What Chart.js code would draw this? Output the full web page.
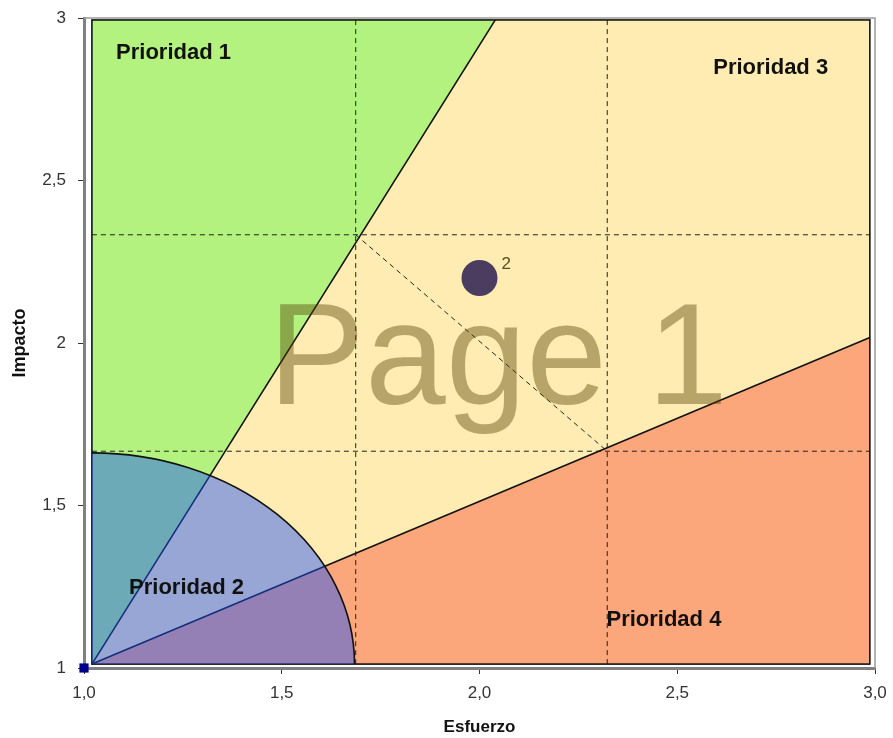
<!DOCTYPE html>
<html>
<head>
<meta charset="utf-8">
<script src="https://cdn.jsdelivr.net/npm/chart.js@4/dist/chart.umd.min.js"></script>
<style>
  html, body { margin: 0; padding: 0; background: #fff; }
  #wrap { width: 893px; height: 738px; }
</style>
</head>
<body>
<div id="wrap"><canvas id="matriz"></canvas></div>
<script>
// proyectos evaluados (esfuerzo, impacto, radio de burbuja)
const projects = [{ x: 2.0, y: 2.2, r: 18 }]
const projectIds = ['2']
const origin = [{ x: 1, y: 1 }]

const xTicks = [1.0, 1.5, 2.0, 2.5, 3.0]
const yTicks = [1, 1.5, 2, 2.5, 3]

// zonas de prioridad, vertices en unidades esfuerzo / impacto
const zoneBox = [[1.02, 1.012], [2.987, 2.994]]
const zoneP1 = [[1.02, 1.012], [1.02, 2.994], [2.04, 2.994]]
const zoneP4 = [[1.02, 1.012], [2.987, 2.017], [2.987, 1.012]]
const zoneP2Center = [1.02, 1.012]
const zoneP2Radius = [0.664, 0.65]

// rejilla en tercios
const thirdsX = [1.687, 2.323]
const thirdsY = [1.667, 2.333]

const zoneNames = ['Prioridad 1', 'Prioridad 2', 'Prioridad 3', 'Prioridad 4']
const zoneNameAt = [[1.081, 2.893], [1.114, 1.245], [2.591, 2.847], [2.321, 1.147]]

const FONT = '"Liberation Sans", Arial, sans-serif'

const zonesPlugin = {
  id: 'zones',
  beforeDatasetsDraw(chart) {
    const { ctx, chartArea, scales: { x, y } } = chart
    const px = p => [x.getPixelForValue(p[0]), y.getPixelForValue(p[1])]
    const poly = (pts, fill) => {
      ctx.beginPath()
      pts.map(px).forEach(([a, b], i) => (i ? ctx.lineTo(a, b) : ctx.moveTo(a, b)))
      ctx.closePath()
      ctx.fillStyle = fill
      ctx.fill()
    }
    const seg = (p, q) => {
      ctx.beginPath()
      ctx.moveTo(...px(p))
      ctx.lineTo(...px(q))
      ctx.stroke()
    }
    const [b0, b1] = zoneBox

    ctx.save()

    // marco gris superior y derecho
    ctx.strokeStyle = '#9a9a9a'
    ctx.lineWidth = 1.5
    ctx.beginPath()
    ctx.moveTo(chartArea.left, chartArea.top)
    ctx.lineTo(chartArea.right, chartArea.top)
    ctx.lineTo(chartArea.right, chartArea.bottom)
    ctx.stroke()

    // prioridad 3 es el fondo, encima 1 y 4
    poly([b0, [b0[0], b1[1]], b1, [b1[0], b0[1]]], '#ffecb2')
    poly(zoneP1, '#b3f27f')
    poly(zoneP4, '#fca67b')

    ctx.strokeStyle = '#222'
    ctx.lineWidth = 1
    ctx.setLineDash([5, 4])
    thirdsY.forEach(v => seg([b0[0], v], [b1[0], v]))
    thirdsX.forEach(v => seg([v, b0[1]], [v, b1[1]]))
    seg([thirdsX[0], thirdsY[1]], [thirdsX[1], thirdsY[0]])
    ctx.setLineDash([])

    ctx.strokeStyle = '#111'
    ctx.lineWidth = 1.6
    seg(zoneP1[0], zoneP1[2])
    seg(zoneP4[0], zoneP4[1])
    const [l, t] = px([b0[0], b1[1]])
    const [r, bt] = px([b1[0], b0[1]])
    ctx.strokeRect(l, t, r - l, bt - t)

    // prioridad 2: cuarto de elipse translucido
    const [cx, cy] = px(zoneP2Center)
    const rx = x.getPixelForValue(zoneP2Center[0] + zoneP2Radius[0]) - cx
    const ry = cy - y.getPixelForValue(zoneP2Center[1] + zoneP2Radius[1])
    ctx.beginPath()
    ctx.moveTo(cx, cy)
    ctx.ellipse(cx, cy, rx, ry, 0, -Math.PI / 2, 0)
    ctx.closePath()
    ctx.fillStyle = 'rgba(25, 83, 255, 0.45)'
    ctx.fill()
    ctx.beginPath()
    ctx.ellipse(cx, cy, rx, ry, 0, -Math.PI / 2, 0)
    ctx.stroke()

    // nombres de zona
    ctx.fillStyle = '#111'
    ctx.font = 'bold 22px ' + FONT
    ctx.textAlign = 'left'
    ctx.textBaseline = 'middle'
    zoneNames.forEach((name, i) => ctx.fillText(name, ...px(zoneNameAt[i])))

    // marca de agua
    ctx.fillStyle = 'rgba(80, 65, 5, 0.42)'
    ctx.font = '145px ' + FONT
    ctx.textAlign = 'center'
    ctx.textBaseline = 'alphabetic'
    ctx.fillText('Page 1', ...px([2.047, 1.812]))

    ctx.restore()
  },
  afterDatasetsDraw(chart) {
    const { ctx } = chart
    const meta = chart.getDatasetMeta(0)
    ctx.save()
    ctx.fillStyle = '#5a4e1e'
    ctx.font = '17px ' + FONT
    ctx.textAlign = 'left'
    ctx.textBaseline = 'middle'
    meta.data.forEach((pt, i) => {
      const rad = pt.options.radius
      ctx.fillText(projectIds[i], pt.x + rad + 4, pt.y - rad + 4)
    })
    ctx.restore()
  },
}

const fmt = v => String(v).replace('.', ',')

const axisBase = {
  type: 'linear',
  min: 1,
  max: 3,
  grid: { drawOnChartArea: false, tickLength: 6, tickColor: '#333', tickWidth: 1 },
  border: { color: '#808080', width: 3 },
}

new Chart(document.getElementById('matriz'), {
  type: 'bubble',
  data: {
    datasets: [
      {
        label: 'Proyectos',
        data: projects,
        backgroundColor: '#4b3d5f',
        borderWidth: 0,
      },
      {
        type: 'scatter',
        label: 'Origen',
        data: origin,
        pointStyle: 'rect',
        pointRadius: 6.5,
        backgroundColor: '#00008b',
        borderWidth: 0,
        clip: false,
      },
    ],
  },
  options: {
    responsive: true,
    maintainAspectRatio: false,
    animation: false,
    layout: { padding: { top: 15, right: 17, left: 0, bottom: 0 } },
    plugins: {
      legend: { display: false },
      tooltip: { enabled: false },
    },
    scales: {
      x: {
        ...axisBase,
        afterBuildTicks: s => { s.ticks = xTicks.map(value => ({ value })) },
        // el area del grafico la fija layout.padding, no el ancho de las etiquetas
        afterFit: s => {
          s.height = 70
          s.paddingLeft = 0
          s.paddingRight = 0
        },
        ticks: {
          padding: 9,
          color: '#333',
          font: { family: FONT, size: 17 },
          callback: v => v.toFixed(1).replace('.', ','),
        },
        title: {
          display: true,
          text: 'Esfuerzo',
          color: '#111',
          font: { family: FONT, size: 17, weight: 'bold' },
          padding: { top: 0, bottom: 0 },
        },
      },
      y: {
        ...axisBase,
        afterBuildTicks: s => { s.ticks = yTicks.map(value => ({ value })) },
        afterFit: s => {
          s.width = 84
          s.paddingTop = 0
          s.paddingBottom = 0
        },
        ticks: {
          padding: 12,
          color: '#333',
          font: { family: FONT, size: 17 },
          callback: fmt,
        },
        title: {
          display: true,
          text: 'Impacto',
          color: '#111',
          font: { family: FONT, size: 18, weight: 'bold' },
          padding: { top: 9, bottom: 0 },
        },
      },
    },
  },
  plugins: [zonesPlugin],
})
</script>
</body>
</html>
